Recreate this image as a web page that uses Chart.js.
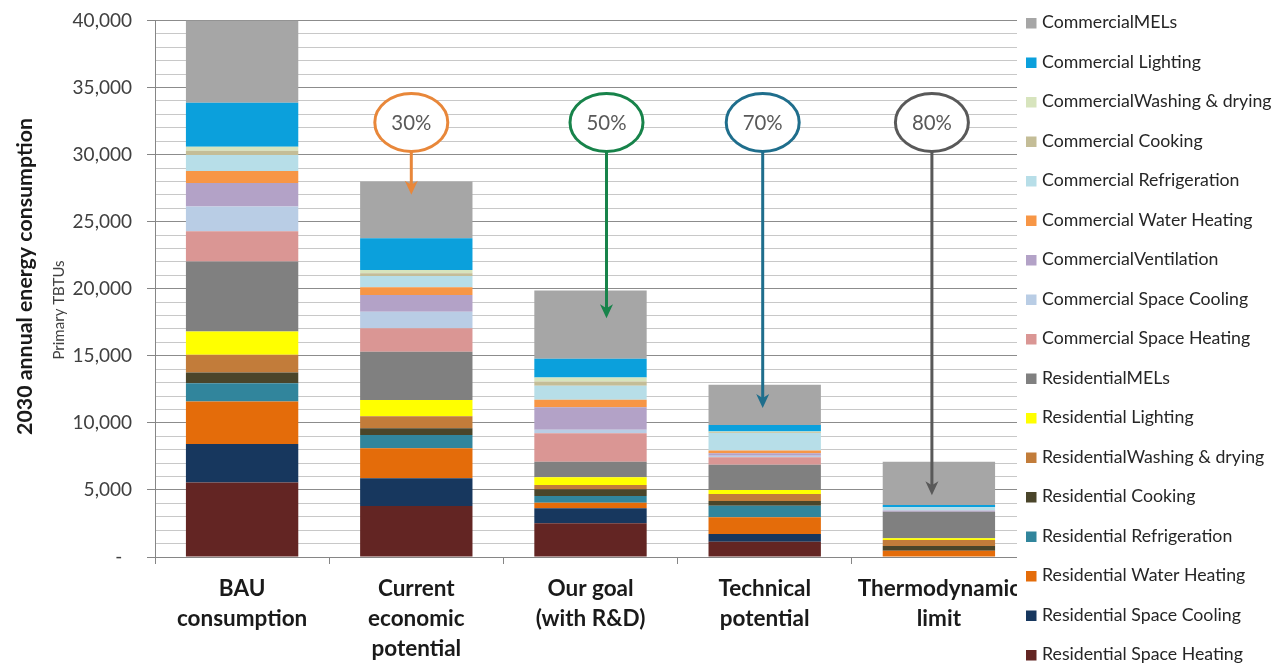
<!DOCTYPE html>
<html>
<head>
<meta charset="utf-8">
<script src="https://cdn.jsdelivr.net/npm/chart.js@4.4.1/dist/chart.umd.min.js"></script>
<style>
  html, body { margin: 0; padding: 0; background: #fff; overflow: hidden; }
  #wrap { position: relative; width: 1278px; height: 665px; }
</style>
</head>
<body>
<div id="wrap"><canvas id="energyChart"></canvas></div>
<script>
// Categories (x axis), multi-line labels
const categories = [
    ['BAU', 'consumption'],
    ['Current', 'economic', 'potential'],
    ['Our goal', '(with R&D)'],
    ['Technical', 'potential'],
    ['Thermodynamic', 'limit']
];

// Primary TBTUs per end use, stacked bottom -> top
const resSpaceHeating  = [5550, 3800, 2510, 1140,    0];
const resSpaceCooling  = [2880, 2070, 1120,  580,    0];
const resWaterHeating  = [3160, 2240,  420, 1240,  470];
const resRefrigeration = [1370,  990,  500,  870,    0];
const resCooking       = [ 790,  500,  500,  350,  350];
const resWashing       = [1320,  900,  320,  520,  450];
const resLighting      = [1740, 1200,  580,  300,  130];
const resMELs          = [5230, 3600, 1160, 1870, 1980];
const comSpaceHeating  = [2240, 1750, 2120,  570,    0];
const comSpaceCooling  = [1860, 1240,  250,  100,    0];
const comVentilation   = [1750, 1240, 1690,  200,   80];
const comWaterHeating  = [ 890,  580,  550,  200,    0];
const comRefrigeration = [1200,  840, 1040, 1310,  250];
const comCooking       = [ 300,  200,  320,   50,    0];
const comWashing       = [ 300,  250,  300,   50,    0];
const comLighting      = [3290, 2360, 1400,  500,  170];
const comMELs          = [6130, 4240, 5090, 3000, 3230];

// Reduction call-outs (which bar, label, where the arrow ends)
const reductionBars   = [1, 2, 3, 4];
const reductionLabels = ['30%', '50%', '70%', '80%'];
const arrowTipValues  = [27000, 17800, 11100, 4600];
const circleLevel     = 32400;

// Y ticks
const yMax = 40000;
const yMinorStep = 1000;
const yMajorStep = 5000;

const FONT = "Lato, 'Open Sans', sans-serif";

const series = [
    { label: 'Residential Space Heating',    data: resSpaceHeating,  color: '#632523' },
    { label: 'Residential Space Cooling',    data: resSpaceCooling,  color: '#17375E' },
    { label: 'Residential Water Heating',    data: resWaterHeating,  color: '#E46C0A' },
    { label: 'Residential Refrigeration',    data: resRefrigeration, color: '#31859C' },
    { label: 'Residential Cooking',          data: resCooking,       color: '#4A452A' },
    { label: 'ResidentialWashing & drying',  data: resWashing,       color: '#C27C3A' },
    { label: 'Residential Lighting',         data: resLighting,      color: '#FFFF00' },
    { label: 'ResidentialMELs',              data: resMELs,          color: '#808080' },
    { label: 'Commercial Space Heating',     data: comSpaceHeating,  color: '#DA9694' },
    { label: 'Commercial Space Cooling',     data: comSpaceCooling,  color: '#B9CDE5' },
    { label: 'CommercialVentilation',        data: comVentilation,   color: '#B3A2C7' },
    { label: 'Commercial Water Heating',     data: comWaterHeating,  color: '#F79646' },
    { label: 'Commercial Refrigeration',     data: comRefrigeration, color: '#B7DEE8' },
    { label: 'Commercial Cooking',           data: comCooking,       color: '#C4BD97' },
    { label: 'CommercialWashing & drying',   data: comWashing,       color: '#D7E4BD' },
    { label: 'Commercial Lighting',          data: comLighting,      color: '#0BA0DC' },
    { label: 'CommercialMELs',               data: comMELs,          color: '#A6A6A6' }
];

const calloutColors = ['#E8873A', '#17834A', '#1F6E8C', '#595959'];
const calloutNudge  = [-5, 16, -2, -7];

function fitSize(ctx, text, weight, target) {
    ctx.font = `${weight} 100px ${FONT}`;
    return 100 * target / ctx.measureText(text).width;
}

// Legend, axis title and the reduction call-outs
const extrasPlugin = {
    id: 'extras',
    afterDraw(chart) {
        const ctx = chart.ctx;
        const xs = chart.scales.x;
        const ys = chart.scales.y;
        ctx.save();

        // legend area sits on top of the plot, like the original
        ctx.fillStyle = '#fff';
        ctx.fillRect(1017, 0, chart.width - 1017, chart.height);

        const sets = chart.data.datasets;
        const legendSize = fitSize(ctx, 'Commercial Lighting', 'normal', 159);
        ctx.font = `${legendSize}px ${FONT}`;
        ctx.textBaseline = 'middle';
        ctx.textAlign = 'left';
        for (let i = 0; i < sets.length; i++) {
            const ds = sets[sets.length - 1 - i];
            const cy = 22.5 + i * 39.5;
            ctx.fillStyle = ds.backgroundColor;
            ctx.fillRect(1026, cy - 4.5, 10.5, 10.5);
            ctx.fillStyle = '#262626';
            ctx.fillText(ds.label, 1042, cy);
        }

        // y axis title (two lines, different weights)
        const t1 = '2030 annual energy consumption';
        const t2 = 'Primary TBTUs';
        const s1 = fitSize(ctx, t1, 'bold', 317);
        ctx.textAlign = 'center';
        ctx.save();
        ctx.translate(25, 276.5);
        ctx.rotate(-Math.PI / 2);
        ctx.font = `bold ${s1}px ${FONT}`;
        ctx.fillStyle = '#1a1a1a';
        ctx.fillText(t1, 0, 0);
        ctx.restore();
        ctx.save();
        ctx.translate(59, 310);
        ctx.rotate(-Math.PI / 2);
        ctx.font = `15px ${FONT}`;
        ctx.fillStyle = '#404040';
        ctx.fillText(t2, 0, 0);
        ctx.restore();

        // reduction circles and arrows
        const rx = 36.5, ry = 29;
        const pctSize = fitSize(ctx, '30%', 'normal', 40);
        reductionBars.forEach((bar, k) => {
            const col = calloutColors[k];
            const cx = xs.getPixelForValue(bar) + calloutNudge[k];
            const cy = ys.getPixelForValue(circleLevel);
            const tip = ys.getPixelForValue(arrowTipValues[k]);

            ctx.strokeStyle = col;
            ctx.fillStyle = col;
            ctx.lineWidth = 3;
            ctx.beginPath();
            ctx.moveTo(cx, cy + ry);
            ctx.lineTo(cx, tip - 8);
            ctx.stroke();
            ctx.beginPath();
            ctx.moveTo(cx, tip);
            ctx.lineTo(cx - 6.5, tip - 14);
            ctx.lineTo(cx, tip - 10);
            ctx.lineTo(cx + 6.5, tip - 14);
            ctx.closePath();
            ctx.fill();

            ctx.beginPath();
            ctx.ellipse(cx, cy, rx, ry, 0, 0, Math.PI * 2);
            ctx.fillStyle = '#fff';
            ctx.fill();
            ctx.stroke();

            ctx.fillStyle = '#595959';
            ctx.font = `${pctSize}px ${FONT}`;
            ctx.textAlign = 'center';
            ctx.textBaseline = 'middle';
            ctx.fillText(reductionLabels[k], cx, cy + 1);
        });

        ctx.restore();
    }
};

const isMajor = v => v % yMajorStep === 0;

const ctx = document.getElementById('energyChart').getContext('2d');
const chartInstance = new Chart(ctx, {
    type: 'bar',
    data: {
        labels: categories,
        datasets: series.map(s => ({
            label: s.label,
            data: s.data,
            backgroundColor: s.color,
            borderWidth: 0,
            categoryPercentage: 1,
            barPercentage: 0.645
        }))
    },
    options: {
        responsive: true,
        maintainAspectRatio: false,
        animation: false,
        layout: { padding: { top: 20.5, right: 252, bottom: 0, left: 0 } },
        plugins: {
            legend: { display: false },
            tooltip: { enabled: false }
        },
        scales: {
            x: {
                stacked: true,
                grid: { display: true, drawOnChartArea: false, tickLength: 7, color: '#868686' },
                border: { color: '#868686' },
                ticks: {
                    autoSkip: false,
                    maxRotation: 0,
                    padding: 10,
                    color: '#1a1a1a',
                    font: { family: FONT, size: 22.5, weight: 'bold', lineHeight: '30px' }
                },
                afterFit: s => { s.height = 108; }
            },
            y: {
                stacked: true,
                min: 0,
                max: yMax,
                ticks: {
                    stepSize: yMinorStep,
                    autoSkip: false,
                    padding: 15,
                    color: '#404040',
                    font: { family: FONT, size: 19 },
                    callback: v => isMajor(v) ? (v === 0 ? '-  ' : v.toLocaleString('en-US')) : ''
                },
                grid: {
                    tickLength: 8,
                    color: c => isMajor(c.tick.value) ? '#8C8C8C' : '#C8C8C8',
                    tickColor: c => isMajor(c.tick.value) ? '#868686' : 'rgba(0,0,0,0)'
                },
                border: { color: '#868686' },
                afterFit: s => { s.width = 155; s.paddingTop = 0; s.paddingBottom = 0; }
            }
        }
    },
    plugins: [extrasPlugin]
});
</script>
</body>
</html>
